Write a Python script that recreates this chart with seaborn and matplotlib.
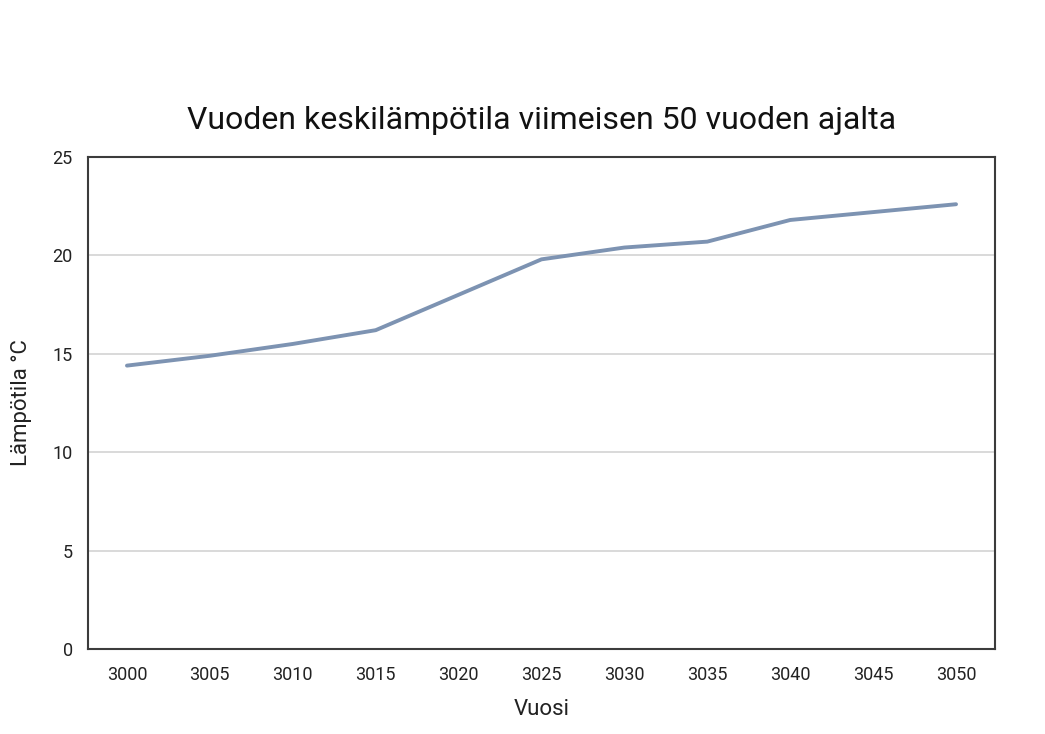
import pandas as pd
import seaborn as sns
import matplotlib.pyplot as plt

# values (in the chart's own frame)
years = [3000, 3005, 3010, 3015, 3020, 3025, 3030, 3035, 3040, 3045, 3050]
temps = [14.4, 14.9, 15.5, 16.2, 18.0, 19.8, 20.4, 20.7, 21.8, 22.2, 22.6]
y_ticks = [0, 5, 10, 15, 20, 25]

title = "Vuoden keskilämpötila viimeisen 50 vuoden ajalta"
x_label = "Vuosi"
y_label = "Lämpötila °C"

sns.set_theme(style="white")
plt.rcParams['font.family'] = ['Roboto', 'DejaVu Sans']

df = pd.DataFrame({x_label: years, y_label: temps})

W, H = 1045, 734
fig = plt.figure(figsize=(W / 100, H / 100), dpi=100)
fig.patch.set_facecolor("white")
ax = fig.add_axes([88 / W, 85 / H, 907 / W, 492 / H])

sns.lineplot(data=df, x=x_label, y=y_label, ax=ax, color="#7d93b2", linewidth=2.8)

ax.set_xlim(years[0] - 2.35, years[-1] + 2.35)
ax.set_ylim(0, 25)
ax.set_xticks(years)
ax.set_yticks(y_ticks)

ax.yaxis.grid(True, color="#d9d9d9", linewidth=1.4)
ax.xaxis.grid(False)
for s in ax.spines.values():
    s.set_color("#3c3c3c")
    s.set_linewidth(1.5)

ax.tick_params(axis="both", length=0, labelsize=13, labelcolor="#222222")
ax.tick_params(axis="x", pad=12)
ax.tick_params(axis="y", pad=11)

ax.set_xlabel(x_label, fontsize=16, color="#222222", labelpad=11)
ax.set_ylabel(y_label, fontsize=16, color="#222222", labelpad=15)
ax.set_title(title, fontsize=23, color="#111111", pad=20)

fig.savefig("out.png", dpi=100)
